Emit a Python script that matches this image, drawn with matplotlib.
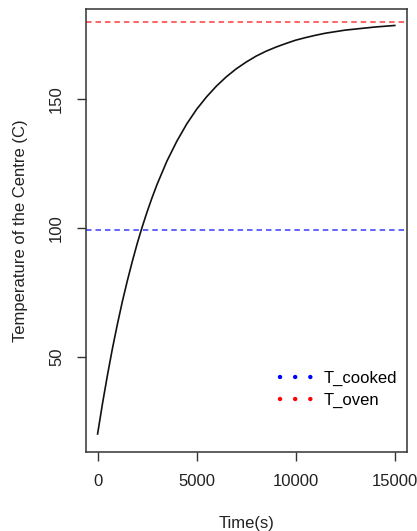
import matplotlib.pyplot as plt
from matplotlib.lines import Line2D

plt.rcParams['font.family'] = ['Liberation Sans', 'DejaVu Sans']

# centre temperature
time_s = [0, 250, 500, 750, 1000, 1250, 1500, 1750, 2000, 2250, 2500, 2750, 3000,
          3500, 4000, 4500, 5000, 5500, 6000, 6500, 7000, 7500, 8000, 8500,
          9000, 9500, 10000, 10500, 11000, 11500, 12000, 12500, 13000, 13500,
          14000, 14500, 15000]
temp_c = [20.0, 31.9, 42.9, 53.2, 62.6, 71.4, 79.4, 86.9, 93.9, 100.3, 106.2, 111.7, 116.8,
          125.9, 133.6, 140.3, 146.0, 150.8, 155.0, 158.6, 161.7, 164.3, 166.6, 168.5,
          170.1, 171.5, 172.8, 173.8, 174.7, 175.5, 176.1, 176.7, 177.1, 177.5,
          177.9, 178.2, 178.5]

t_cooked = 99
t_oven = 180

x_ticks = [0, 5000, 10000, 15000]
y_ticks = [50, 100, 150]
legend_labels = ['T_cooked', 'T_oven']

fig = plt.figure(figsize=(4.17, 5.31), dpi=100)
ax = fig.add_axes([0.2055, 0.1497, 0.7698, 0.8334])

ax.plot(time_s, temp_c, color='#111111', lw=1.2)
ax.axhline(t_cooked, color='#3a3aff', lw=1.1, dashes=(3.6, 2.6))
ax.axhline(t_oven, color='#ff3a3a', lw=1.1, dashes=(3.6, 2.6))

ax.set_xlim(-600, 15600)
ax.set_ylim(13.2, 184.9)
ax.set_xticks(x_ticks)
ax.set_yticks(y_ticks)
ax.set_yticklabels([str(v) for v in y_ticks], rotation=90, va='center')
ax.tick_params(axis='both', length=6.5, width=1, colors='#333333',
               labelsize=12, labelcolor='#222222')
ax.tick_params(axis='x', pad=10)
ax.tick_params(axis='y', pad=9)

for sp in ax.spines.values():
    sp.set_color('#333333')
    sp.set_linewidth(1.1)

ax.set_xlabel('Time(s)', fontsize=12, color='#222222', labelpad=19)
ax.set_ylabel('Temperature of the Centre (C)', fontsize=12, color='#222222', labelpad=15)

handles = [Line2D([], [], color='blue', lw=3.2, linestyle=(0, (0.01, 3.4)),
                  dash_capstyle='round'),
           Line2D([], [], color='red', lw=3.2, linestyle=(0, (0.01, 3.4)),
                  dash_capstyle='round')]
ax.legend(handles, legend_labels, frameon=False, fontsize=12,
          loc='upper left', bbox_to_anchor=(0.584, 0.198),
          handlelength=1.9, handletextpad=0.72, labelspacing=0.44,
          borderaxespad=0)

fig.savefig('out.png', dpi=100)
